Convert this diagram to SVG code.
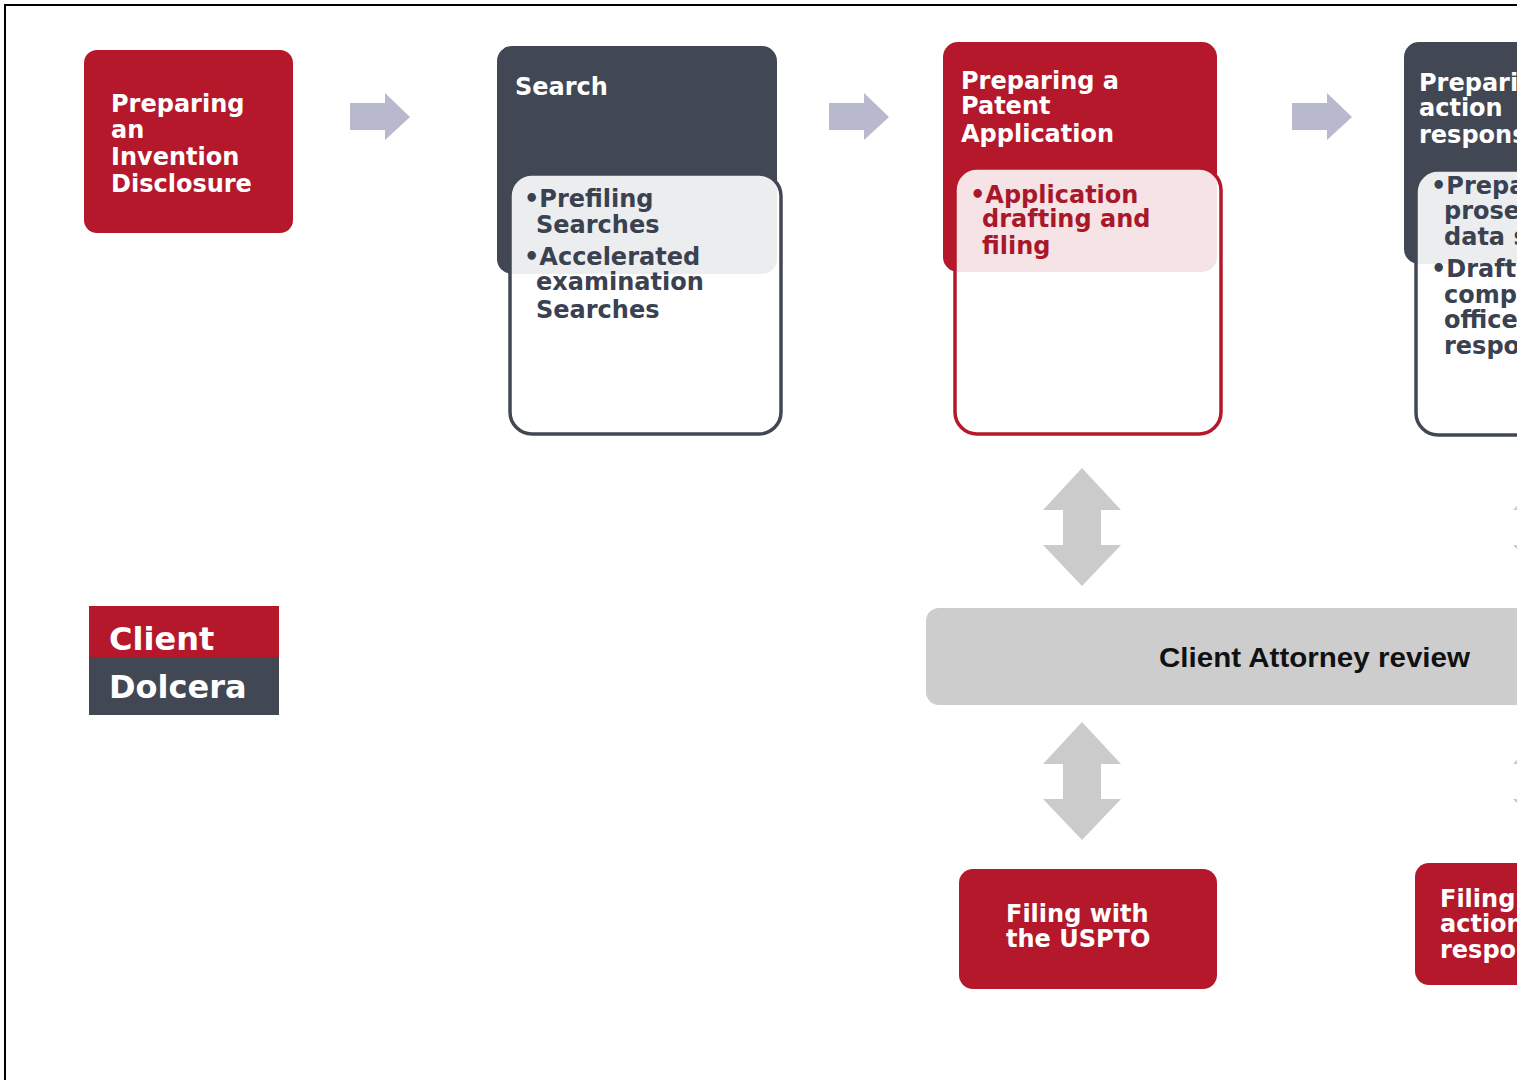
<svg xmlns="http://www.w3.org/2000/svg" width="1517" height="1080" viewBox="0 0 1517 1080">
<defs>
<style>
.red{fill:#B5182B}
.dark{fill:#414853}
.inner-d{fill:#FFFFFF;fill-opacity:0.9;stroke:#414853;stroke-width:3.5}
.inner-r{fill:#FFFFFF;fill-opacity:0.88;stroke:#B5182B;stroke-width:3.5}
.t{font-family:"DejaVu Sans","Verdana",sans-serif;font-weight:bold;font-size:24px}
.w{fill:#FFFFFF}
.dt{fill:#3A4150}
.rt{fill:#A8182A}
.flow{fill:#B9B9CE}
.dbl{fill:#CBCBCB}
</style>
<path id="rarrow" d="M0,10 H35 V0 L60,24 L35,47 V37 H0 Z"/>
<path id="darrow" d="M0,0 L39,42 H19 V77 H39 L0,118 L-39,77 H-19 V42 H-39 Z"/>
</defs>
<rect x="0" y="0" width="1517" height="1080" fill="#FFFFFF"/>
<rect x="5" y="5" width="1540" height="1100" fill="none" stroke="#000000" stroke-width="2"/>

<g id="connectors">
<use href="#rarrow" x="350" y="93" class="flow"/>
<use href="#rarrow" x="829" y="93" class="flow"/>
<use href="#rarrow" x="1292" y="93" class="flow"/>
<use href="#darrow" x="1082" y="468" class="dbl"/>
<use href="#darrow" x="1082" y="722" class="dbl"/>
<use href="#darrow" x="1552" y="468" class="dbl"/>
<use href="#darrow" x="1552" y="722" class="dbl"/>
</g>

<g id="node-invention">
<rect x="84" y="50" width="209" height="183" rx="13" class="red"/>
<text class="t w"><tspan x="111" y="112">Preparing</tspan><tspan x="111" y="138">an</tspan><tspan x="111" y="165">Invention</tspan><tspan x="111" y="192">Disclosure</tspan></text>
</g>

<g id="node-search">
<rect x="497" y="46" width="280" height="228" rx="15" class="dark"/>
<text class="t w" x="515" y="95">Search</text>
<rect x="510" y="174" width="271" height="260" rx="22" class="inner-d"/>
<text class="t dt"><tspan x="524" y="207">•Prefiling</tspan><tspan x="536" y="233">Searches</tspan><tspan x="524" y="265">•Accelerated</tspan><tspan x="536" y="290">examination</tspan><tspan x="536" y="318">Searches</tspan></text>
</g>

<g id="node-patent">
<rect x="943" y="42" width="274" height="230" rx="15" class="red"/>
<text class="t w"><tspan x="961" y="89">Preparing a</tspan><tspan x="961" y="114">Patent</tspan><tspan x="961" y="142">Application</tspan></text>
<rect x="955" y="168" width="266" height="266" rx="22" class="inner-r"/>
<text class="t rt"><tspan x="970" y="203">•Application</tspan><tspan x="982" y="227">drafting and</tspan><tspan x="982" y="254">filing</tspan></text>
</g>

<g id="node-office-action">
<rect x="1404" y="42" width="200" height="222" rx="15" class="dark"/>
<text class="t w"><tspan x="1419" y="91">Prepari</tspan><tspan x="1419" y="116">action</tspan><tspan x="1419" y="143">respons</tspan></text>
<rect x="1416" y="170" width="190" height="265" rx="22" class="inner-d"/>
<text class="t dt"><tspan x="1431" y="194">•Prepa</tspan><tspan x="1444" y="219">prose</tspan><tspan x="1444" y="245">data s</tspan><tspan x="1431" y="277">•Draft</tspan><tspan x="1444" y="303">comp</tspan><tspan x="1444" y="328">office</tspan><tspan x="1444" y="354">respo</tspan></text>
</g>

<g id="node-review">
<rect x="926" y="608" width="640" height="97" rx="13" fill="#CDCDCD"/>
<text x="1159" y="667" font-family="'Liberation Sans',Arial,sans-serif" font-weight="bold" font-size="27" fill="#111111" textLength="311" lengthAdjust="spacingAndGlyphs">Client Attorney review</text>
</g>

<g id="node-filing-uspto">
<rect x="959" y="869" width="258" height="120" rx="14" class="red"/>
<text class="t w"><tspan x="1006" y="922">Filing with</tspan><tspan x="1006" y="947">the USPTO</tspan></text>
</g>

<g id="node-filing-response">
<rect x="1415" y="863" width="200" height="122" rx="14" class="red"/>
<text class="t w"><tspan x="1440" y="907">Filing</tspan><tspan x="1440" y="932">action</tspan><tspan x="1440" y="958">respo</tspan></text>
</g>

<g id="legend">
<rect x="89" y="606" width="190" height="52" class="red"/>
<rect x="89" y="657" width="190" height="58" class="dark"/>
<text x="109" y="650" font-family="'DejaVu Sans',Verdana,sans-serif" font-weight="bold" font-size="32" fill="#FFFFFF">Client</text>
<text x="109" y="698" font-family="'DejaVu Sans',Verdana,sans-serif" font-weight="bold" font-size="32" fill="#FFFFFF">Dolcera</text>
</g>
</svg>
